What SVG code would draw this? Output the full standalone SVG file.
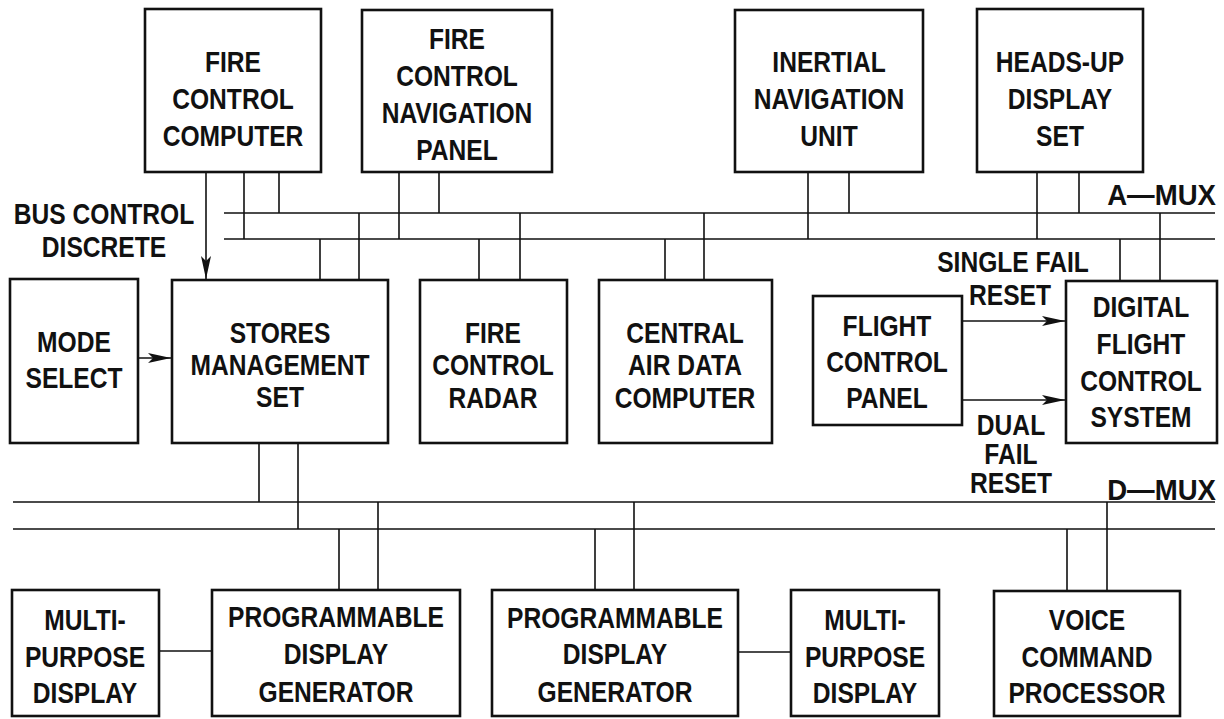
<svg xmlns="http://www.w3.org/2000/svg" width="1224" height="719" viewBox="0 0 1224 719">
<style>
text{font-family:"Liberation Sans",Arial,sans-serif;font-weight:bold;font-size:30px;fill:#111;text-anchor:middle}
.box{fill:#fff;stroke:#111;stroke-width:2.6}
.ln{stroke:#111;stroke-width:1.6;fill:none}
.end{text-anchor:end}
</style>
<defs>
<marker id="ah" markerUnits="userSpaceOnUse" markerWidth="25" markerHeight="11" refX="23" refY="5" orient="auto">
<path d="M0,0 L23,5 L0,10 L5,5 z" fill="#111"/>
</marker>
</defs>
<rect width="1224" height="719" fill="#fff"/>
<g id="connectors">
<path class="ln" d="M224,213H1215M224,239H1215M13,502H1215M13,529H1215"/>
<path class="ln" d="M244,172V239M279,172V213M399,172V239M439,172V213M808,172V239M849,172V213M1037,172V239M1079,172V213"/>
<path class="ln" d="M320,239V280M359,213V280M479,239V280M520,213V280M665,239V280M704,213V280M1120,239V281M1160,213V281"/>
<path class="ln" d="M259,443V502M298,443V529M339,529V590M378,502V590M595,529V590M634,502V590M1067,529V591M1107,502V591"/>
<path class="ln" d="M159,651H212M738,652H791"/>
<path class="ln" d="M206,172V279" marker-end="url(#ah)"/>
<path class="ln" d="M138,358H171" marker-end="url(#ah)"/>
<path class="ln" d="M962,321H1065" marker-end="url(#ah)"/>
<path class="ln" d="M962,400H1065" marker-end="url(#ah)"/>
</g>
<g id="labels">
<text transform="translate(104,224) scale(0.82,1)">BUS CONTROL</text>
<text transform="translate(104,257) scale(0.82,1)">DISCRETE</text>
<text class="end" transform="translate(1216,205) scale(0.92,1)">A—MUX</text>
<text class="end" transform="translate(1216,500) scale(0.92,1)">D—MUX</text>
<text transform="translate(1013,272) scale(0.82,1)">SINGLE FAIL</text>
<text transform="translate(1010,305) scale(0.82,1)">RESET</text>
<text transform="translate(1011,435) scale(0.82,1)">DUAL</text>
<text transform="translate(1011,464) scale(0.82,1)">FAIL</text>
<text transform="translate(1011,493) scale(0.82,1)">RESET</text>
</g>
<g id="fcc"><rect class="box" x="145" y="9" width="176" height="163"/>
<text transform="translate(233,72) scale(0.82,1)">FIRE</text><text transform="translate(233,109) scale(0.82,1)">CONTROL</text><text transform="translate(233,146) scale(0.82,1)">COMPUTER</text></g>
<g id="fcnp"><rect class="box" x="362" y="10" width="190" height="162"/>
<text transform="translate(457,49) scale(0.82,1)">FIRE</text><text transform="translate(457,86) scale(0.82,1)">CONTROL</text><text transform="translate(457,123) scale(0.82,1)">NAVIGATION</text><text transform="translate(457,160) scale(0.82,1)">PANEL</text></g>
<g id="inu"><rect class="box" x="735" y="10" width="188" height="162"/>
<text transform="translate(829,72) scale(0.82,1)">INERTIAL</text><text transform="translate(829,109) scale(0.82,1)">NAVIGATION</text><text transform="translate(829,146) scale(0.82,1)">UNIT</text></g>
<g id="hud"><rect class="box" x="977" y="9" width="166" height="163"/>
<text transform="translate(1060,72) scale(0.82,1)">HEADS-UP</text><text transform="translate(1060,109) scale(0.82,1)">DISPLAY</text><text transform="translate(1060,146) scale(0.82,1)">SET</text></g>
<g id="mode"><rect class="box" x="10" y="279" width="128" height="164"/>
<text transform="translate(74,352) scale(0.82,1)">MODE</text><text transform="translate(74,388) scale(0.82,1)">SELECT</text></g>
<g id="sms"><rect class="box" x="172" y="280" width="216" height="163"/>
<text transform="translate(280,343) scale(0.82,1)">STORES</text><text transform="translate(280,375) scale(0.82,1)">MANAGEMENT</text><text transform="translate(280,407) scale(0.82,1)">SET</text></g>
<g id="radar"><rect class="box" x="420" y="280" width="147" height="163"/>
<text transform="translate(493,343) scale(0.82,1)">FIRE</text><text transform="translate(493,375) scale(0.82,1)">CONTROL</text><text transform="translate(493,408) scale(0.82,1)">RADAR</text></g>
<g id="cadc"><rect class="box" x="599" y="280" width="173" height="163"/>
<text transform="translate(685,343) scale(0.82,1)">CENTRAL</text><text transform="translate(685,375) scale(0.82,1)">AIR DATA</text><text transform="translate(685,408) scale(0.82,1)">COMPUTER</text></g>
<g id="fcp"><rect class="box" x="813" y="296" width="149" height="129"/>
<text transform="translate(887,336) scale(0.82,1)">FLIGHT</text><text transform="translate(887,372) scale(0.82,1)">CONTROL</text><text transform="translate(887,408) scale(0.82,1)">PANEL</text></g>
<g id="dfcs"><rect class="box" x="1066" y="281" width="151" height="162"/>
<text transform="translate(1141,317) scale(0.82,1)">DIGITAL</text><text transform="translate(1141,354) scale(0.82,1)">FLIGHT</text><text transform="translate(1141,391) scale(0.82,1)">CONTROL</text><text transform="translate(1141,427) scale(0.82,1)">SYSTEM</text></g>
<g id="mpd1"><rect class="box" x="12" y="590" width="147" height="126"/>
<text transform="translate(85,630) scale(0.82,1)">MULTI-</text><text transform="translate(85,667) scale(0.82,1)">PURPOSE</text><text transform="translate(85,703) scale(0.82,1)">DISPLAY</text></g>
<g id="pdg1"><rect class="box" x="212" y="590" width="248" height="126"/>
<text transform="translate(336,627) scale(0.82,1)">PROGRAMMABLE</text><text transform="translate(336,664) scale(0.82,1)">DISPLAY</text><text transform="translate(336,702) scale(0.82,1)">GENERATOR</text></g>
<g id="pdg2"><rect class="box" x="492" y="590" width="246" height="126"/>
<text transform="translate(615,628) scale(0.82,1)">PROGRAMMABLE</text><text transform="translate(615,664) scale(0.82,1)">DISPLAY</text><text transform="translate(615,702) scale(0.82,1)">GENERATOR</text></g>
<g id="mpd2"><rect class="box" x="791" y="590" width="148" height="126"/>
<text transform="translate(865,630) scale(0.82,1)">MULTI-</text><text transform="translate(865,667) scale(0.82,1)">PURPOSE</text><text transform="translate(865,703) scale(0.82,1)">DISPLAY</text></g>
<g id="vcp"><rect class="box" x="994" y="591" width="186" height="125"/>
<text transform="translate(1087,630) scale(0.82,1)">VOICE</text><text transform="translate(1087,667) scale(0.82,1)">COMMAND</text><text transform="translate(1087,703) scale(0.82,1)">PROCESSOR</text></g>
</svg>
